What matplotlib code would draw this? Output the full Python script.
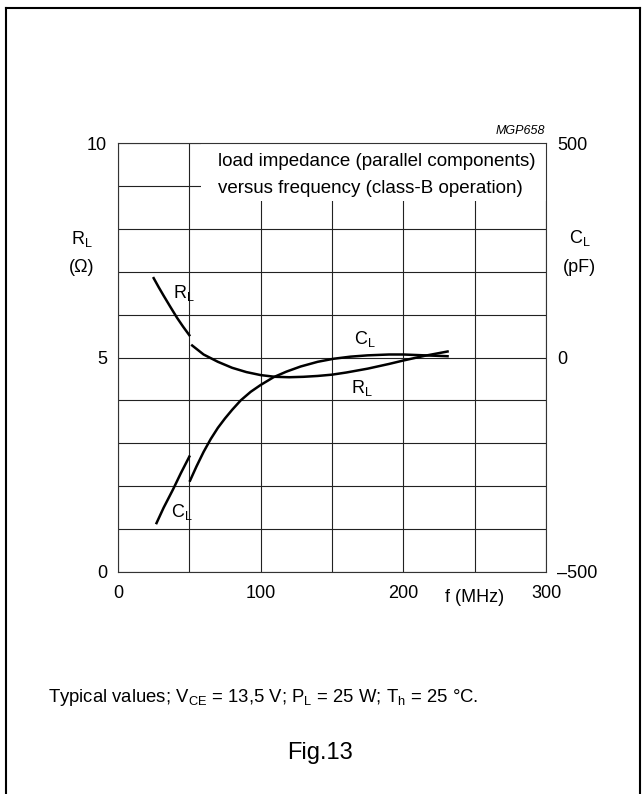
import matplotlib
matplotlib.use('Agg')
import matplotlib.pyplot as plt
from matplotlib.patches import Rectangle
from matplotlib.lines import Line2D

plt.rcParams['font.family'] = ['Liberation Sans', 'DejaVu Sans']
plt.rcParams['mathtext.fontset'] = 'custom'
plt.rcParams['mathtext.rm'] = 'Liberation Sans'
plt.rcParams['mathtext.it'] = 'Liberation Sans:italic'

# R_L (ohm) against f (MHz), two pieces as in the datasheet
rl_f1 = [25, 28.5, 32, 36.7, 41.3, 45.6, 50]
rl_v1 = [6.85, 6.64, 6.44, 6.18, 5.93, 5.72, 5.52]
rl_f2 = [52, 60, 70, 80, 90, 100, 110, 120, 130, 140, 150, 160, 175, 190, 200, 215, 231]
rl_v2 = [5.28, 5.07, 4.9, 4.76, 4.66, 4.59, 4.55, 4.54, 4.55, 4.57, 4.6, 4.65, 4.74, 4.85, 4.93, 5.04, 5.14]

# C_L (pF) against f (MHz)
cl_f1 = [27, 32, 38.5, 44, 50]
cl_v1 = [-386, -350, -308, -270, -231]
cl_f2 = [50.5, 55, 60, 65, 70, 75, 80, 86, 93, 100, 109, 118, 128, 140, 151, 163, 175, 190, 200, 215, 231]
cl_v2 = [-287, -254, -220, -190, -164, -142, -122, -100, -80, -64, -46, -33, -21, -10, -3, 2, 5, 7, 7, 5, 3]

x_ticks = [0, 50, 100, 150, 200, 250, 300]
x_labels = ['0', '', '100', '', '200', '', '300']
rl_ticks = list(range(11))
rl_labels = ['0', '', '', '', '', '5', '', '', '', '', '10']
cl_ticks = [-500, 0, 500]
cl_labels = ['\u2013500', '0', '500']

W, H = 642, 794
fig = plt.figure(figsize=(W / 100, H / 100), dpi=100)


def fx(px):
    return px / W


def fy(py):
    return 1 - py / H


ax = fig.add_axes([fx(118), fy(572), fx(546) - fx(118), fy(143) - fy(572)])
ax.set_xlim(0, 300)
ax.set_ylim(0, 10)
ax.set_xticks(x_ticks)
ax.set_xticklabels(x_labels)
ax.set_yticks(rl_ticks)
ax.set_yticklabels(rl_labels)
ax.tick_params(length=0, labelsize=13)
ax.tick_params(axis='x', pad=9)
ax.tick_params(axis='y', pad=8)
ax.grid(True, color='#222222', lw=0.8, zorder=1)
for s in ax.spines.values():
    s.set_color('#333333')
    s.set_linewidth(0.8)

# blank area behind the title text
ax.add_patch(Rectangle((58, 8.64), 242, 1.36, facecolor='white', edgecolor='none', zorder=2))

ax.plot(rl_f1, rl_v1, color='black', lw=1.8, zorder=3)
ax.plot(rl_f2, rl_v2, color='black', lw=1.8, zorder=3)

ax2 = ax.twinx()
ax2.set_ylim(-500, 500)
ax2.set_yticks(cl_ticks)
ax2.set_yticklabels(cl_labels)
ax2.tick_params(length=0, labelsize=13, pad=8)
for s in ax2.spines.values():
    s.set_visible(False)
ax2.plot(cl_f1, cl_v1, color='black', lw=1.8)
ax2.plot(cl_f2, cl_v2, color='black', lw=1.8)

ax.text(70, 9.56, 'load impedance (parallel components)', fontsize=13.5, va='center', zorder=4)
ax.text(70, 8.93, 'versus frequency (class-B operation)', fontsize=13.5, va='center', zorder=4)

ax.text(46, 6.5, r'$\mathrm{R_L}$', fontsize=13, ha='center', va='center', zorder=4)
ax.text(173, 5.42, r'$\mathrm{C_L}$', fontsize=13, ha='center', va='center', zorder=4)
ax.text(171, 4.3, r'$\mathrm{R_L}$', fontsize=13, ha='center', va='center', zorder=4)
ax.text(45, 1.4, r'$\mathrm{C_L}$', fontsize=13, ha='center', va='center', zorder=4)

fig.text(fx(82), fy(239), r'$\mathrm{R_L}$', fontsize=13, ha='center', va='center')
fig.text(fx(82), fy(268), '(\u03a9)', fontsize=13, ha='center', va='center')
fig.text(fx(580), fy(238), r'$\mathrm{C_L}$', fontsize=13, ha='center', va='center')
fig.text(fx(579), fy(267), '(pF)', fontsize=13, ha='center', va='center')
fig.text(fx(475), fy(597), 'f (MHz)', fontsize=13, ha='center', va='center')
fig.text(fx(545), fy(131), 'MGP658', fontsize=9, style='italic', ha='right', va='center')

footnote = (r'Typical values; $\mathrm{V_{CE}}$ = 13,5 V; $\mathrm{P_L}$ = 25 W; '
            r'$\mathrm{T_h}$ = 25 ' + '\u00b0C.')
fig.text(fx(48), fy(702), footnote, fontsize=13.3, ha='left', va='baseline')
fig.text(fx(320), fy(753), 'Fig.13', fontsize=17, ha='center', va='center')

# page frame
for xs, ys in [([6, 640], [8, 8]), ([6, 6], [8, H]), ([640, 640], [8, H])]:
    fig.add_artist(Line2D([fx(x) for x in xs], [fy(y) for y in ys], color='black', lw=1.5))

fig.savefig('out.png', dpi=100)
